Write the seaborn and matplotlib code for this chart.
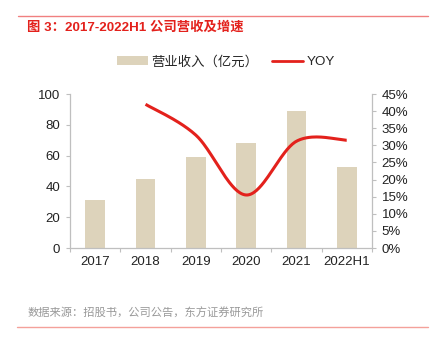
import numpy as np
import pandas as pd
import matplotlib
matplotlib.use("Agg")
import matplotlib.pyplot as plt
from matplotlib.patches import Patch
from matplotlib.lines import Line2D
import seaborn as sns

years = ["2017", "2018", "2019", "2020", "2021", "2022H1"]
revenue = [31.3, 44.5, 59.0, 68.2, 89.2, 52.9]
yoy = [None, 42.0, 33.0, 15.5, 31.2, 31.5]
left_ticks = [0, 20, 40, 60, 80, 100]
right_ticks = [0, 5, 10, 15, 20, 25, 30, 35, 40, 45]

sns.set_theme(style="white")
plt.rcParams['font.family'] = ['Liberation Sans', 'Noto Sans CJK SC', 'DejaVu Sans']
mix = ['Liberation Sans', 'Noto Sans CJK SC', 'DejaVu Sans']
cjk = ['Noto Sans CJK SC', 'Liberation Sans', 'DejaVu Sans']

BAR = "#DDD3BB"
RED = "#E3211C"
GREY = "#BFBFBF"

fig = plt.figure(figsize=(4.38, 3.37), dpi=100)
ax = fig.add_axes([0.160, 0.264, 0.689, 0.457])

df = pd.DataFrame({"year": years, "revenue": revenue})
sns.barplot(data=df, x="year", y="revenue", color=BAR, width=0.39, ax=ax,
            saturation=1, edgecolor="none")
ax.set_ylim(0, 100)
ax.set_xlim(-0.5, len(years) - 0.5)
ax.set_yticks(left_ticks)
ax.set_xlabel("")
ax.set_ylabel("")
ax.tick_params(axis="y", labelsize=9.5, colors="#222222", length=3, width=0.8,
               direction="out", left=True, pad=4)
ax.tick_params(axis="y", color=GREY)
ax.set_xticks(range(len(years)))
ax.set_xticklabels(years)
ax.tick_params(axis="x", labelsize=9.5, colors="#222222", length=0, pad=6)
# category boundary ticks
ax.set_xticks(np.arange(len(years) + 1) - 0.5, minor=True)
ax.tick_params(axis="x", which="minor", length=3, color=GREY, width=0.8, direction="out", bottom=True)
for s in ["top", "right"]:
    ax.spines[s].set_visible(False)
for s in ["left", "bottom"]:
    ax.spines[s].set_color(GREY)
    ax.spines[s].set_linewidth(0.9)

# secondary axis with smoothed YOY line
ax2 = ax.twinx()
xs = np.array([i for i, v in enumerate(yoy) if v is not None], dtype=float)
ys = np.array([v for v in yoy if v is not None], dtype=float)
# Excel-like bezier smoothing
px, py = [], []
n = len(xs)
for i in range(n - 1):
    p0 = (xs[max(i - 1, 0)], ys[max(i - 1, 0)])
    p1 = (xs[i], ys[i])
    p2 = (xs[i + 1], ys[i + 1])
    p3 = (xs[min(i + 2, n - 1)], ys[min(i + 2, n - 1)])
    c1 = (p1[0] + (p2[0] - p0[0]) / 6, p1[1] + (p2[1] - p0[1]) / 6)
    c2 = (p2[0] - (p3[0] - p1[0]) / 6, p2[1] - (p3[1] - p1[1]) / 6)
    t = np.linspace(0, 1, 40)
    bx = (1 - t) ** 3 * p1[0] + 3 * (1 - t) ** 2 * t * c1[0] + 3 * (1 - t) * t ** 2 * c2[0] + t ** 3 * p2[0]
    by = (1 - t) ** 3 * p1[1] + 3 * (1 - t) ** 2 * t * c1[1] + 3 * (1 - t) * t ** 2 * c2[1] + t ** 3 * p2[1]
    px.extend(bx)
    py.extend(by)
ax2.plot(px, py, color=RED, linewidth=2.2, solid_capstyle="butt")
ax2.set_ylim(0, 45)
ax2.set_yticks(right_ticks)
ax2.set_yticklabels([f"{v}%" for v in right_ticks])
ax2.tick_params(axis="y", labelsize=9.5, colors="#222222", length=3, width=0.8,
                direction="out", right=True, pad=4)
ax2.tick_params(axis="y", color=GREY)
ax2.grid(False)
for s in ["top", "left", "bottom"]:
    ax2.spines[s].set_visible(False)
ax2.spines["right"].set_color(GREY)
ax2.spines["right"].set_linewidth(0.9)
ax.set_xlim(-0.5, len(years) - 0.5)

# legend
handles = [Patch(facecolor=BAR, edgecolor="none", label="营业收入（亿元）"),
           Line2D([0], [0], color=RED, linewidth=2, label="YOY")]
fig.legend(handles=handles, loc="center", bbox_to_anchor=(0.516, 0.816), ncol=2,
           frameon=False, prop={"family": mix, "size": 9.6}, handlelength=2.3,
           handleheight=0.7, columnspacing=1.0, handletextpad=0.3)

# title & decorations
fig.add_artist(Line2D([0.041, 0.977], [0.9525, 0.9525], color="#F08080", linewidth=1.0))
fig.text(0.062, 0.918, "图 3：2017-2022H1 公司营收及增速", color="#E3211C",
         fontsize=9.6, fontweight="bold", family=mix, va="center", ha="left")
fig.text(0.062, 0.070, "数据来源：招股书，公司公告，东方证券研究所", color="#999999",
         fontsize=8.1, family=cjk, va="center", ha="left")
fig.add_artist(Line2D([0.039, 0.977], [0.030, 0.030], color="#F4A19A", linewidth=1.0))

fig.savefig("out.png", dpi=100)
